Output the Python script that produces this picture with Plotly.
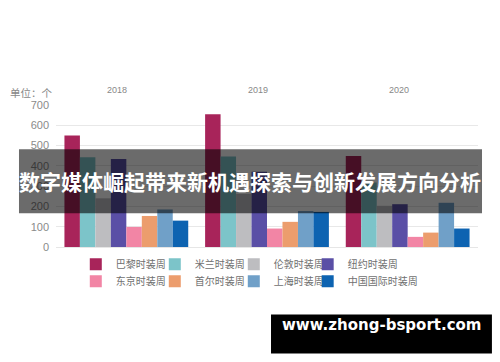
import plotly.graph_objects as go

years = ["2018", "2019", "2020"]
series_names = ["巴黎时装周", "米兰时装周", "伦敦时装周", "纽约时装周",
                "东京时装周", "首尔时装周", "上海时装周", "中国国际时装周"]
paris = [550, 655, 449]
milan = [443, 446, 318]
london = [240, 262, 203]
newyork = [434, 371, 211]
tokyo = [99, 91, 50]
seoul = [153, 124, 71]
shanghai = [185, 177, 218]
china = [130, 173, 91]
y_ticks = [0, 100, 200, 300, 400, 500, 600, 700]

series_values = [paris, milan, london, newyork, tokyo, seoul, shanghai, china]
colors = ["#a8245a", "#7cc4c9", "#bdbdc0", "#5a4fa6",
          "#f285a5", "#ec9d6d", "#70a0c8", "#0d63b1"]

CJK = "Noto Sans CJK SC"

# legend grid: 4 columns x 2 rows, each entry in its own legend box
legend_cols_x = [0.0469, 0.2341, 0.4213, 0.5964]
legend_rows_y = [-0.122, -0.242]

fig = go.Figure()
legend_layout = {}
for i, (name, vals, col) in enumerate(zip(series_names, series_values, colors)):
    key = "legend" if i == 0 else f"legend{i + 1}"
    fig.add_trace(go.Bar(x=years, y=vals, name=name, marker_color=col,
                         marker_line_width=0, legend=key))
    legend_layout[key] = dict(
        orientation="h", xanchor="left", yanchor="middle",
        x=legend_cols_x[i % 4], y=legend_rows_y[i // 4],
        font=dict(size=10, color="#707070", family=CJK),
        itemwidth=30, bgcolor="rgba(0,0,0,0)")

# page body adds an 8px offset, so the figure is 8px smaller than the window
fig.update_layout(
    width=492, height=354,
    margin=dict(l=48, r=22, t=97, b=115.3),
    paper_bgcolor="white", plot_bgcolor="white",
    barmode="group", bargap=0.12, bargroupgap=0,
    font=dict(family=CJK, color="#888888"),
    xaxis=dict(type="category", range=[-0.5, len(years) - 0.5],
               showticklabels=False, showgrid=False,
               zeroline=False, showline=False, ticks=""),
    yaxis=dict(range=[0, 700], tickvals=y_ticks, showgrid=True,
               gridcolor="#e8e8e8", gridwidth=1, zeroline=True,
               zerolinecolor="#e6e6e6", zerolinewidth=1,
               tickfont=dict(size=11, color="#8a8a8a", family="Liberation Sans"),
               ticklabelstandoff=6, showline=False),
    showlegend=True,
    **legend_layout,
)

annotations = [dict(x=idx, y=1.155, xref="x", yref="paper", text=yr,
                    showarrow=False, xshift=-9, xanchor="center",
                    font=dict(size=9, color="#888888", family="Liberation Sans"))
               for idx, yr in enumerate(years)]
annotations.append(dict(x=-0.114, y=1.155, xref="paper", yref="paper",
                        text="单位：个", showarrow=False, xanchor="left",
                        font=dict(size=10.5, color="#888888", family=CJK)))
annotations.append(dict(x=0.4597, y=0.462, xref="paper", yref="paper",
                        text="<b>数字媒体崛起带来新机遇探索与创新发展方向分析</b>",
                        showarrow=False, xanchor="center",
                        font=dict(size=21, color="white", family=CJK)))
annotations.append(dict(x=0.7713, y=-0.63, xref="paper", yref="paper",
                        text="<b>www.zhong-bsport.com</b>", showarrow=False,
                        xanchor="center",
                        font=dict(size=15, color="white", family="DejaVu Sans")))
fig.update_layout(annotations=annotations)

fig.add_shape(type="rect", xref="paper", yref="paper",
              x0=-0.0877, x1=1.0095, y0=0.238, y1=0.689,
              fillcolor="rgba(0,0,0,0.58)", line_width=0, layer="above")
fig.add_shape(type="rect", xref="paper", yref="paper",
              x0=0.5095, x1=1.033, y0=-0.75, y1=-0.475,
              fillcolor="black", line_width=0, layer="above")

fig.write_html("out.html")
